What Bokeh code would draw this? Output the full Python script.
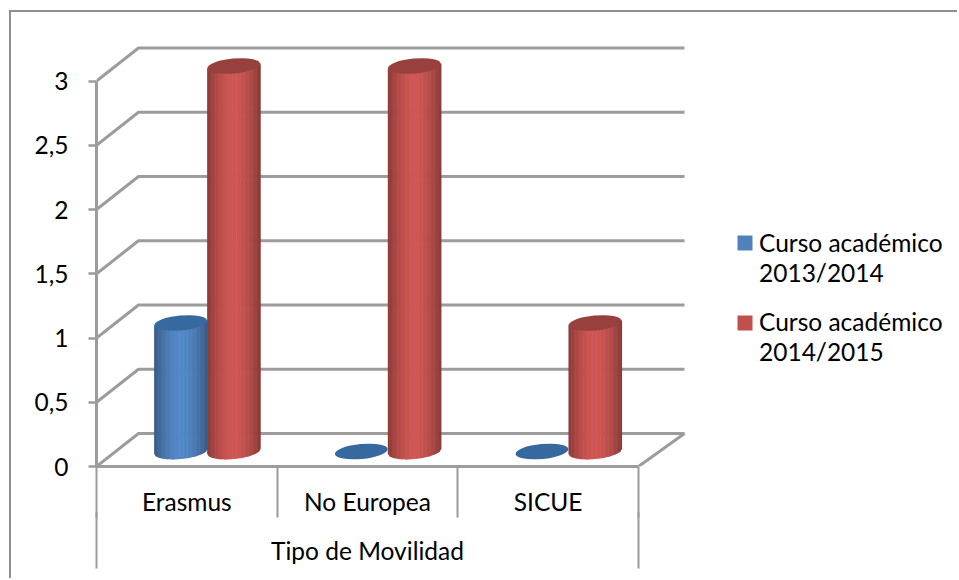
import math
from bokeh.plotting import figure
from bokeh.models import Range1d, LinearAxis, FixedTicker
from bokeh.core.properties import value
from bokeh.embed import file_html
from bokeh.resources import INLINE

categories = ["Erasmus", "No Europea", "SICUE"]
series_names = ["Curso académico\n2013/2014", "Curso académico\n2014/2015"]
values_2013 = [1, 0, 0]
values_2014 = [3, 3, 1]
y_ticks = [0, 0.5, 1, 1.5, 2, 2.5, 3]
y_labels = ["0", "0,5", "1", "1,5", "2", "2,5", "3"]
x_title = "Tipo de Movilidad"

FONT = "Lato"
FS = "24.5px"
GRID = "#9c9c9c"
PX = 180.67   # pixels per category
PY = 128.5    # pixels per unit
DX = 42 / PX  # depth of the 3D floor
DY = 33 / PY
EXT = 4 / PX  # back wall runs a little past the floor's front edge

OX, OY = 11, 12
W, H = 959 - OX, 580 - OY
LEFT = 96 - OX
BOTTOM = 114
p = figure(width=W, height=H, output_backend="svg", toolbar_location=None,
           x_axis_type=None, y_axis_type=None,
           margin=(OY, 0, 0, OX), styles={"box-shadow": "-2px -2px 0 0 #8f8f8f"},
           min_border_left=LEFT, min_border_right=0, min_border_top=0, min_border_bottom=BOTTOM,
           x_range=Range1d(0, (W - LEFT) / PX), y_range=Range1d(0, (H - BOTTOM) / PY))
p.outline_line_color = None
p.grid.visible = False
p.background_fill_color = "white"

# y axis
yax = LinearAxis(ticker=FixedTicker(ticks=y_ticks), bounds=(0, 3),
                 major_label_overrides={t: l for t, l in zip(y_ticks, y_labels)})
yax.axis_line_color = GRID; yax.axis_line_width = 3
yax.major_tick_line_color = GRID; yax.major_tick_line_width = 2.5
yax.major_tick_out = 8; yax.major_tick_in = 0
yax.minor_tick_out = 0; yax.minor_tick_in = 0
yax.major_label_standoff = 20
yax.major_label_text_font = FONT; yax.major_label_text_font_size = FS
yax.major_label_text_color = "black"
p.add_layout(yax, "left")

# category axis, first level
xax = LinearAxis(ticker=FixedTicker(ticks=[0.5, 1.5, 2.5], minor_ticks=[0, 1, 2, 3]), bounds=(0, 3),
                 major_label_overrides={i + 0.5: c for i, c in enumerate(categories)})
xax.axis_line_color = GRID; xax.axis_line_width = 3
xax.major_tick_out = 0; xax.major_tick_in = 0
xax.minor_tick_out = 51; xax.minor_tick_in = 0
xax.minor_tick_line_color = GRID; xax.minor_tick_line_width = 2
xax.major_label_standoff = -31
xax.major_label_text_font = FONT; xax.major_label_text_font_size = FS
xax.major_label_text_color = "black"
p.add_layout(xax, "below")

# category axis, second level
xax2 = LinearAxis(ticker=FixedTicker(ticks=[1.5], minor_ticks=[0, 3]), bounds=(0, 3),
                  major_label_overrides={1.5: x_title})
xax2.axis_line_color = None
xax2.major_tick_out = 0; xax2.major_tick_in = 0
xax2.minor_tick_out = 50; xax2.minor_tick_in = 6
xax2.minor_tick_line_color = GRID; xax2.minor_tick_line_width = 2
xax2.major_label_standoff = -33
xax2.major_label_text_font = FONT; xax2.major_label_text_font_size = FS
xax2.major_label_text_color = "black"
p.add_layout(xax2, "below")

# walls and floor gridlines
for t in y_ticks:
    p.line([0, DX, 3 + DX + EXT], [t, t + DY, t + DY], line_color=GRID, line_width=3)
p.line([3, 3 + DX + EXT], [0, DY], line_color=GRID, line_width=3)

# cylinders
R_PX, B_PX, TILT = 26.5, 7.5, 2.5
BASE = 15 / PY


def shade(col, t):
    f = 0.70 + 0.36 * (1 - abs(t) ** 1.8)
    return "#%02x%02x%02x" % tuple(min(255, int(c * f)) for c in col)


def cylinder(cx, v, col, cap):
    bottom = BASE
    top = bottom + v
    if v > 0:
        n = 40
        xs, ys, fills = [], [], []
        for i in range(n):
            t0, t1 = -1 + 2 * i / n, -1 + 2 * (i + 1) / n
            b = lambda t: bottom + (TILT * t - B_PX * math.sqrt(max(0, 1 - t * t))) / PY
            u = lambda t: top + TILT * t / PY
            x0, x1 = cx + t0 * R_PX / PX, cx + t1 * R_PX / PX
            xs.append([x0, x1 + 0.6 / PX, x1 + 0.6 / PX, x0])
            ys.append([b(t0), b(t1), u(t1), u(t0)])
            fills.append(shade(col, (t0 + t1) / 2))
        p.patches(xs, ys, fill_color=fills, line_color=None)
    p.ellipse([cx], [top], width=R_PX * 2, height=B_PX * 2, width_units="screen", height_units="screen",
              angle=math.atan(TILT / R_PX), fill_color=cap, line_color=None)


BLUE, RED = (79, 129, 189), (196, 82, 79)
OFF = 0.5 + DX / 2 - 0.7 / PX
for i in range(3):
    cylinder(i + OFF - R_PX / PX, values_2013[i], BLUE, "#366a9f")
    cylinder(i + OFF + R_PX / PX, values_2014[i], RED, "#98403d")

# legend
LEG_X = (737 + 7.5 - 96) / PX
LEG_TXT = (758.5 - 96) / PX
for name, yc, ty, col in ((series_names[0], 242.5, 227.5, "#4f81bd"), (series_names[1], 322.5, 306.5, "#c0504d")):
    p.rect([LEG_X], [(466 - yc) / PY], width=15, height=15, width_units="screen", height_units="screen",
           fill_color=col, line_color=None)
    p.text([LEG_TXT], [(466 - ty) / PY], text=[name], text_font=value(FONT), text_font_size=FS,
           text_color="black", text_baseline="top", text_line_height=1.05)

open("out.html", "w").write(file_html(p, INLINE))
